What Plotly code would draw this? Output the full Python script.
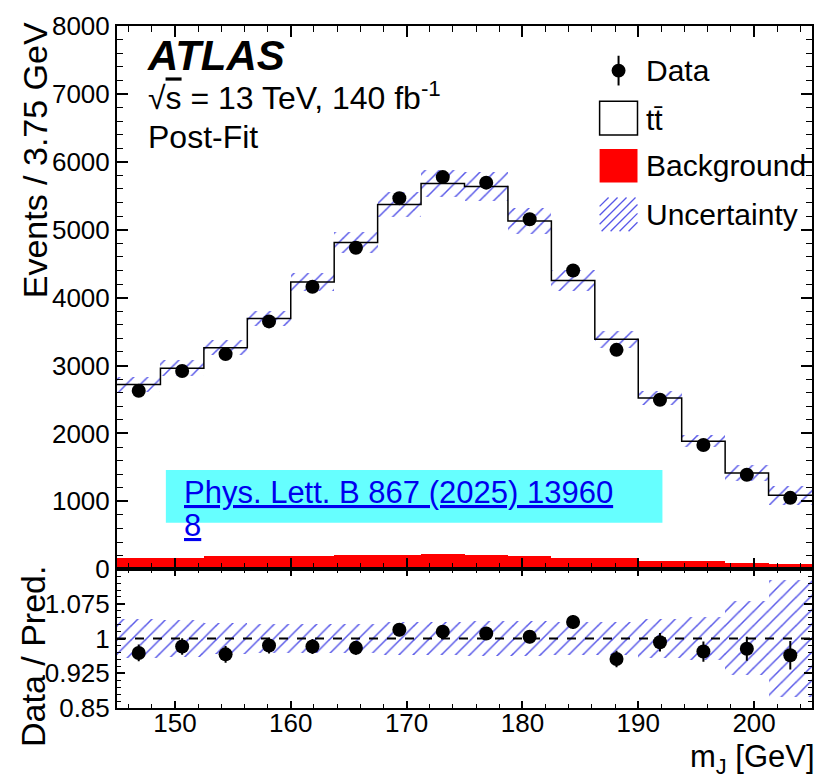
import plotly.graph_objects as go

# ---------------- data ----------------
bin_edges = [145.0, 148.75, 152.5, 156.25, 160.0, 163.75, 167.5, 171.25, 175.0,
             178.75, 182.5, 186.25, 190.0, 193.75, 197.5, 201.25, 205.0]
data_events = [2628, 2920, 3168, 3650, 4160, 4735, 5465, 5775, 5693, 5153,
               4400, 3231, 2496, 1829, 1391, 1051]
data_err = [51, 54, 56, 60, 64, 69, 74, 76, 75, 72, 66, 57, 50, 43, 37, 32]
pred_total = [2720, 2959, 3260, 3693, 4229, 4813, 5372, 5679, 5635, 5129,
              4253, 3387, 2521, 1883, 1416, 1090]
background = [170, 170, 190, 190, 200, 205, 210, 219, 214, 195,
              165, 165, 117, 117, 88, 78]
ratio = [0.969, 0.983, 0.966, 0.985, 0.983, 0.980, 1.019, 1.015, 1.011, 1.004,
         1.036, 0.956, 0.992, 0.972, 0.978, 0.964]
ratio_err = [0.018, 0.018, 0.018, 0.017, 0.016, 0.015, 0.014, 0.014, 0.014, 0.014,
             0.015, 0.018, 0.020, 0.022, 0.026, 0.031]
unc_rel = [0.043, 0.040, 0.034, 0.031, 0.031, 0.032, 0.035, 0.036, 0.037, 0.037,
           0.035, 0.036, 0.043, 0.047, 0.080, 0.126]
main_yticks = [0, 1000, 2000, 3000, 4000, 5000, 6000, 7000, 8000]
ratio_yticks = [0.85, 0.925, 1.0, 1.075]
ratio_yticklabels = ["0.85", "0.925", "1", "1.075"]

centers = [(a + b) / 2 for a, b in zip(bin_edges[:-1], bin_edges[1:])]
width = bin_edges[1] - bin_edges[0]

# ---------------- geometry helpers (pixel -> paper) ----------------
W, H = 825, 779
L, R, T, B = 117, 814, 20, 708


def px(x):
    return (x - L) / (R - L)


def py(y):
    return (B - y) / (B - T)


split = py(568)
FONT = "Liberation Sans, Arial, Helvetica, sans-serif"
HATCH = "rgb(88,88,232)"

fig = go.Figure()

hatch_marker = dict(color="rgba(0,0,0,0)", line=dict(width=0),
                    pattern=dict(shape="/", fgcolor=HATCH, bgcolor="rgba(0,0,0,0)",
                                 size=10, solidity=0.15, fillmode="replace"))

# background (red)
fig.add_trace(go.Bar(x=centers, y=background, width=width, marker=dict(color="#ff0000", line=dict(width=0)),
                     xaxis="x", yaxis="y", showlegend=False))
# uncertainty band main
fig.add_trace(go.Bar(x=centers, y=[2 * p * u for p, u in zip(pred_total, unc_rel)],
                     base=[p * (1 - u) for p, u in zip(pred_total, unc_rel)], width=width,
                     marker=hatch_marker, xaxis="x", yaxis="y", showlegend=False))
# ttbar + bkg step line
fig.add_trace(go.Scatter(x=bin_edges, y=pred_total + [pred_total[-1]], mode="lines",
                         line=dict(color="black", width=1.5, shape="hv"),
                         xaxis="x", yaxis="y", showlegend=False))
# data
fig.add_trace(go.Scatter(x=centers, y=data_events, mode="markers",
                         marker=dict(color="black", size=14),
                         error_y=dict(type="data", array=data_err, color="black", thickness=2, width=0),
                         xaxis="x", yaxis="y", showlegend=False))

# ratio band
fig.add_trace(go.Bar(x=centers, y=[2 * u for u in unc_rel], base=[1 - u for u in unc_rel], width=width,
                     marker=hatch_marker, xaxis="x2", yaxis="y2", showlegend=False))
fig.add_trace(go.Scatter(x=centers, y=ratio, mode="markers",
                         marker=dict(color="black", size=14),
                         error_y=dict(type="data", array=ratio_err, color="black", thickness=2, width=0),
                         xaxis="x2", yaxis="y2", showlegend=False))

axis_common = dict(showline=True, linecolor="black", linewidth=2, mirror="allticks", ticks="inside",
                   tickcolor="black", tickwidth=1.5, showgrid=False, zeroline=False,
                   tickfont=dict(family=FONT, size=26, color="black"))

fig.update_layout(
    width=W, height=H,
    margin=dict(l=L, r=W - R, t=T, b=H - B),
    paper_bgcolor="white", plot_bgcolor="white",
    barmode="overlay", bargap=0,
    font=dict(family=FONT, color="black"),
    xaxis=dict(domain=[0, 1], anchor="y", range=[145, 205], tick0=150, dtick=10, ticklen=11,
               showticklabels=False, minor=dict(ticks="inside", ticklen=6, tick0=150, dtick=2,
                                                tickcolor="black", tickwidth=1.2),
               **axis_common),
    yaxis=dict(domain=[split, 1], anchor="x", range=[0, 8000], tickvals=main_yticks, ticklen=11,
               minor=dict(ticks="inside", ticklen=6, dtick=200, tickcolor="black", tickwidth=1.2),
               **axis_common),
    xaxis2=dict(domain=[0, 1], anchor="y2", range=[145, 205], matches="x", tick0=150, dtick=10, ticklen=7,
                ticklabelstandoff=-9,
                minor=dict(ticks="inside", ticklen=4, tick0=150, dtick=2, tickcolor="black", tickwidth=1.2),
                **axis_common),
    yaxis2=dict(domain=[0, split], anchor="x2", range=[0.85, 1.15], tickvals=ratio_yticks,
                ticktext=ratio_yticklabels, ticklen=8,
                minor=dict(ticks="inside", ticklen=4, tick0=0.85, dtick=0.015, tickcolor="black", tickwidth=1.2),
                **axis_common),
)

shapes = []
# dashed line at 1 in ratio
shapes.append(dict(type="line", xref="x2 domain", yref="y2", x0=0, x1=1, y0=1, y1=1,
                   line=dict(color="black", width=2, dash="dash")))
# link box
shapes.append(dict(type="rect", xref="paper", yref="paper", x0=px(166), x1=px(664), y0=py(521), y1=py(468),
                   fillcolor="#66ffff", line=dict(width=0), layer="above"))
# legend: data
shapes.append(dict(type="line", xref="paper", yref="paper", x0=px(620), x1=px(620), y0=py(80), y1=py(50),
                   line=dict(color="black", width=2)))
shapes.append(dict(type="circle", xref="paper", yref="paper", x0=px(613), x1=px(627), y0=py(72), y1=py(58),
                   fillcolor="black", line=dict(color="black", width=0)))
# legend: ttbar
shapes.append(dict(type="rect", xref="paper", yref="paper", x0=px(601), x1=px(639), y0=py(130), y1=py(96),
                   fillcolor="white", line=dict(color="black", width=1.5)))
# legend: background
shapes.append(dict(type="rect", xref="paper", yref="paper", x0=px(601), x1=px(639), y0=py(178), y1=py(144),
                   fillcolor="#ff0000", line=dict(width=0)))
# legend: uncertainty hatch
bx0, bx1, by0, by1 = 601, 639, 193, 227
h = by1 - by0
c = bx0 - h
while c < bx1:
    xa = max(bx0, c)
    xb = min(bx1, c + h)
    if xb > xa:
        shapes.append(dict(type="line", xref="paper", yref="paper",
                           x0=px(xa), y0=py(by1 - (xa - c)), x1=px(xb), y1=py(by1 - (xb - c)),
                           line=dict(color=HATCH, width=1.3)))
    c += 9
fig.update_layout(shapes=shapes)

ann = []


def text(x, y, s, size, xanchor="left", yanchor="middle", color="black", angle=0, pad=1):
    ann.append(dict(xref="paper", yref="paper", x=px(x), y=py(y), text=s, showarrow=False,
                    xanchor=xanchor, yanchor=yanchor, textangle=angle, borderpad=pad,
                    font=dict(family=FONT, size=size, color=color)))


text(145, 50, "<b><i>ATLAS</i></b>", 42)
text(146, 91, "√<span style='text-decoration:overline'>s</span> = 13 TeV, 140 fb<sup>-1</sup>", 32)
text(146, 132, "Post-Fit", 32)
text(646, 65, "Data", 30)
text(646, 114, "tt̄", 30)
text(646, 161, "Background", 30)
text(646, 210, "Uncertainty", 30)
text(183, 491, "<u>Phys. Lett. B 867 (2025) 13960</u>", 31, color="#0000ee", pad=0)
text(183, 524, "<u>8</u>", 31, color="#0000ee", pad=0)
text(35, 14, "Events / 3.75 GeV", 34, xanchor="center", yanchor="top", angle=-90)
text(33, 563, "Data / Pred.", 34, xanchor="center", yanchor="top", angle=-90)
text(819, 759, "m<sub>J</sub> [GeV]", 31, xanchor="right")
fig.update_layout(annotations=ann)

fig.write_html("out.html")
